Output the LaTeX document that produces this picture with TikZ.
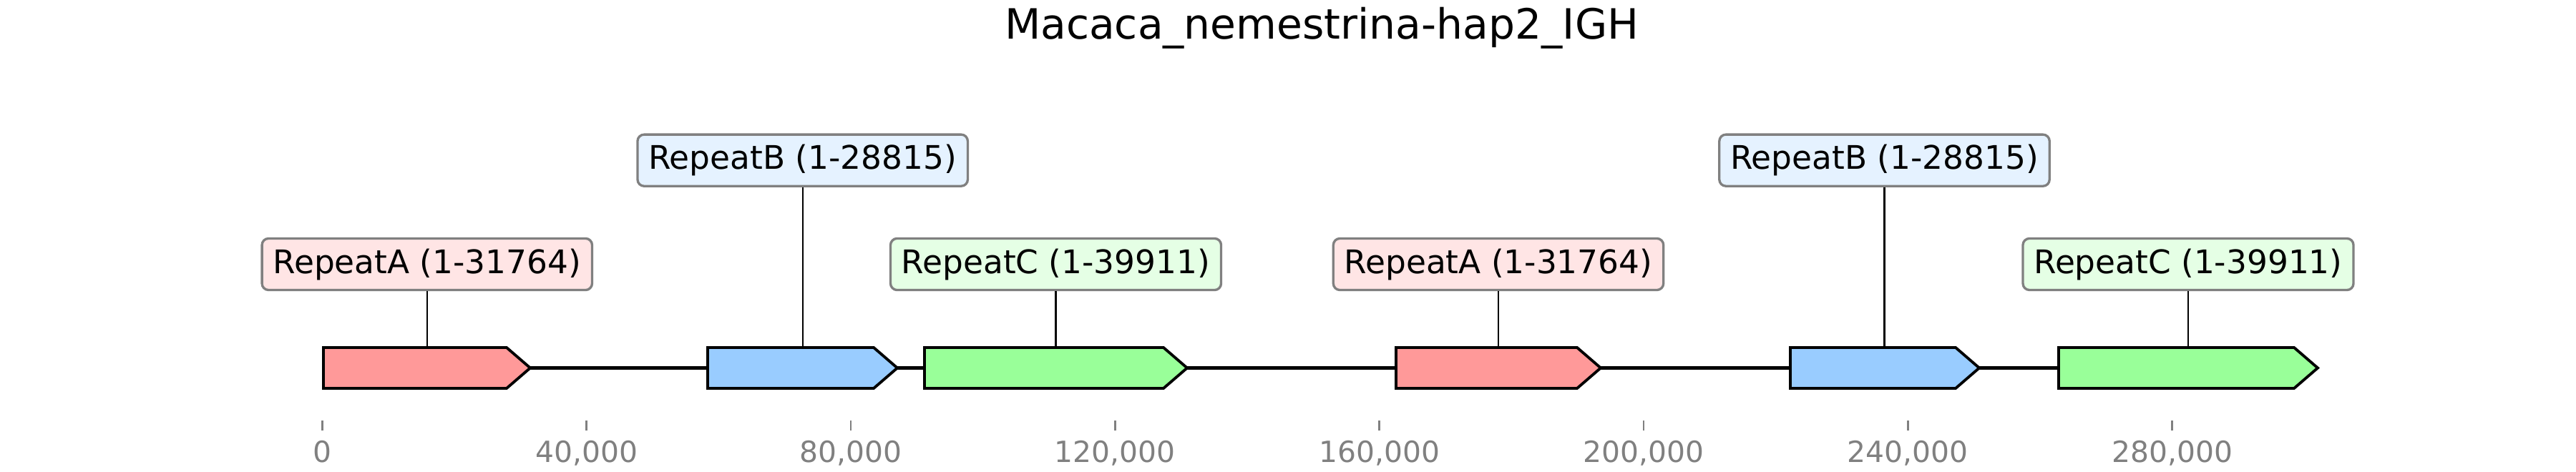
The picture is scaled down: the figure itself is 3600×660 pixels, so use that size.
\documentclass[tikz,border=0pt]{standalone}
\usepackage{fontspec}
\setmainfont{DejaVu Sans}
\definecolor{featRed}{HTML}{FF9999}
\definecolor{featBlue}{HTML}{99CCFF}
\definecolor{featGreen}{HTML}{99FF99}
\definecolor{boxRed}{HTML}{FFE5E5}
\definecolor{boxBlue}{HTML}{E5F2FF}
\definecolor{boxGreen}{HTML}{E5FFE5}
\definecolor{frameGray}{HTML}{808080}
\newcommand\featarrow[4]{%
  \draw[featshape, fill=#4] (#2,486) -- ({#3-33},486) -- (#3,514.5) -- ({#3-33},543) -- (#2,543) -- cycle;
  \coordinate (#1) at ({(#2+#3)/2},486);
}
\tikzset{
  featshape/.style={draw=black, line width=0.92pt, line join=miter},
  track/.style={draw=black, line width=1.3pt},
  leader/.style={draw=black, line width=0.5pt},
  labelbox/.style={draw=frameGray, line width=0.8pt, rounded corners=2.2pt,
    inner xsep=3.7pt, inner ysep=0pt, minimum height=17.3pt,
    font=\fontsize{10.9}{13}\selectfont, text=black},
  ticklabel/.style={anchor=base, text=frameGray, inner sep=0pt,
    font=\fontsize{9.8}{12}\selectfont},
  tickmark/.style={draw=frameGray, line width=0.65pt},
  titlestyle/.style={anchor=base, inner sep=0pt, font=\fontsize{14}{17}\selectfont}
}
\begin{document}
\begin{tikzpicture}[x=0.24pt, y=-0.24pt]
\useasboundingbox (0,0) rectangle (3600,660);
% title
\node[titlestyle] (title) at (1847,54.7) {Macaca\_nemestrina-hap2\_IGH};
% track line
\coordinate (trackstart) at (451,514.5);
\coordinate (trackend) at (3238,514.5);
\draw[track] (trackstart) -- (trackend);
% features
\featarrow{fA1}{452}{741}{featRed}
\featarrow{fB1}{989}{1254}{featBlue}
\featarrow{fC1}{1292}{1659}{featGreen}
\featarrow{fA2}{1951}{2237}{featRed}
\featarrow{fB2}{2502}{2766}{featBlue}
\featarrow{fC2}{2877}{3239}{featGreen}
% labels
\node[labelbox, fill=boxRed]   (lA1) at (596.8,369.5) {RepeatA (1-31764)};
\node[labelbox, fill=boxBlue]  (lB1) at (1121.7,224.2) {RepeatB (1-28815)};
\node[labelbox, fill=boxGreen] (lC1) at (1475.5,369.5) {RepeatC (1-39911)};
\node[labelbox, fill=boxRed]   (lA2) at (2094,369.5) {RepeatA (1-31764)};
\node[labelbox, fill=boxBlue]  (lB2) at (2633.5,224.2) {RepeatB (1-28815)};
\node[labelbox, fill=boxGreen] (lC2) at (3058,369.5) {RepeatC (1-39911)};
% leaders
\draw[leader] (lA1.south) -- (lA1.south |- fA1);
\draw[leader] (lB1.south) -- (lB1.south |- fB1);
\draw[leader] (lC1.south) -- (lC1.south |- fC1);
\draw[leader] (lA2.south) -- (lA2.south |- fA2);
\draw[leader] (lB2.south) -- (lB2.south |- fB2);
\draw[leader] (lC2.south) -- (lC2.south |- fC2);
% axis ticks
\foreach \k/\lab in {0/0,1/{40,000},2/{80,000},3/{120,000},4/{160,000},5/{200,000},6/{240,000},7/{280,000}}{
  \coordinate (tk\k) at ({450.5+\k*369.3},588);
  \draw[tickmark] (tk\k) -- ++(0,13.7);
  \node[ticklabel] (tl\k) at ({450.5+\k*369.3},646.7) {\lab};
}
\end{tikzpicture}
\end{document}
